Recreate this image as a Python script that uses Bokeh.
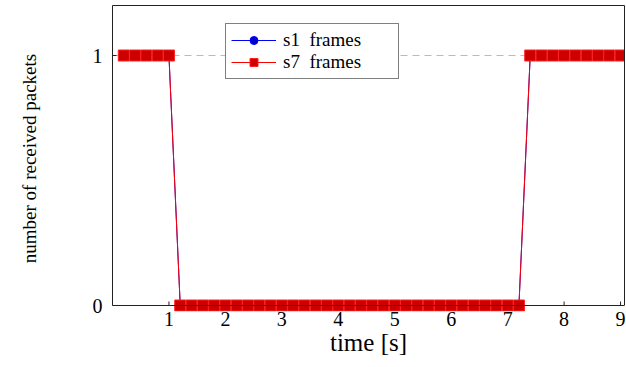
from bokeh.plotting import figure
from bokeh.models import Range1d, FixedTicker, Legend, LegendItem, LinearAxis, Span
from bokeh.embed import file_html
from bokeh.resources import INLINE

# data
time_s = [0.2, 0.4, 0.6, 0.8, 1.0, 1.2, 1.4, 1.6, 1.8, 2.0, 2.2, 2.4, 2.6, 2.8, 3.0,
          3.2, 3.4, 3.6, 3.8, 4.0, 4.2, 4.4, 4.6, 4.8, 5.0, 5.2, 5.4, 5.6, 5.8, 6.0,
          6.2, 6.4, 6.6, 6.8, 7.0, 7.2, 7.4, 7.6, 7.8, 8.0, 8.2, 8.4, 8.6, 8.8, 9.0]
s1_frames = [1, 1, 1, 1, 1, 0, 0, 0, 0, 0, 0, 0, 0, 0, 0,
             0, 0, 0, 0, 0, 0, 0, 0, 0, 0, 0, 0, 0, 0, 0,
             0, 0, 0, 0, 0, 0, 1, 1, 1, 1, 1, 1, 1, 1, 1]
s7_frames = [1, 1, 1, 1, 1, 0, 0, 0, 0, 0, 0, 0, 0, 0, 0,
             0, 0, 0, 0, 0, 0, 0, 0, 0, 0, 0, 0, 0, 0, 0,
             0, 0, 0, 0, 0, 0, 1, 1, 1, 1, 1, 1, 1, 1, 1]
x_ticks = [1, 2, 3, 4, 5, 6, 7, 8, 9]
y_ticks = [0, 1]
labels = ["s1  frames", "s7  frames"]

FONT = "Liberation Serif"
AX = "#222222"

Y0, Y1 = -0.024, 1.2
FRAME_H = 306
TICK_PX = 4

p = figure(width=626, height=367, x_range=Range1d(0, 9.07), y_range=Range1d(Y0, Y1),
           output_backend="svg", toolbar_location=None,
           min_border_left=112, min_border_right=2, min_border_top=5, min_border_bottom=56)

p.outline_line_color = None

# grid
p.xgrid.visible = False
p.ygrid.ticker = FixedTicker(ticks=[1])
p.ygrid.grid_line_color = "#bbbbbb"
p.ygrid.grid_line_dash = "7 5"
p.ygrid.grid_line_width = 1

# axes
for ax in (p.xaxis[0], p.yaxis[0]):
    ax.major_tick_line_color = AX
    ax.major_tick_in = TICK_PX
    ax.major_tick_out = 0
    ax.minor_tick_line_color = None
    ax.major_label_text_font = FONT
    ax.major_label_text_font_size = "20px"
    ax.major_label_text_color = "black"
    ax.axis_label_text_font = FONT
    ax.axis_label_text_font_style = "normal"
    ax.axis_label_text_color = "black"

# x axis: labels at the bottom, line and ticks drawn at y = 0
p.xaxis.ticker = FixedTicker(ticks=x_ticks)
p.xaxis.axis_line_color = None
p.xaxis.major_tick_line_color = None
p.xaxis.axis_label = "time [s]"
p.xaxis.axis_label_text_font_size = "25px"
p.xaxis.major_label_standoff = 0
p.xaxis.axis_label_standoff = 0

p.add_layout(Span(location=0, dimension="width", line_color=AX, line_width=1))
tick_len = TICK_PX * (Y1 - Y0) / FRAME_H
p.segment(x0=x_ticks, y0=[0] * len(x_ticks), x1=x_ticks, y1=[tick_len] * len(x_ticks),
          line_color=AX, line_width=1)

p.yaxis.ticker = FixedTicker(ticks=y_ticks)
p.yaxis.bounds = (0, Y1)
p.yaxis.axis_line_color = AX
p.yaxis.axis_label = "number of received packets"
p.yaxis.axis_label_text_font_size = "19px"
p.yaxis.major_label_standoff = 10
p.yaxis.axis_label_standoff = 50

# frame edges (top and right)
right_ax = LinearAxis(bounds=(0, Y1), ticker=FixedTicker(ticks=[]), major_tick_line_color=None,
                      minor_tick_line_color=None, axis_line_color=AX)
p.add_layout(right_ax, "right")
top_ax = LinearAxis(ticker=FixedTicker(ticks=[]), major_tick_line_color=None,
                    minor_tick_line_color=None, axis_line_color=AX)
p.add_layout(top_ax, "above")

# series
l1 = p.line(time_s, s1_frames, line_color="blue", line_width=1)
m1 = p.scatter(time_s, s1_frames, marker="circle", size=9, fill_color="#0000cc", line_color="blue", line_width=1)
l7 = p.line(time_s, s7_frames, line_color="red", line_width=1)
m7 = p.scatter(time_s, s7_frames, marker="square", size=11, fill_color="#cc0000", line_color="#ff2020", line_width=1)

legend = Legend(items=[LegendItem(label=labels[0], renderers=[l1, m1]),
                       LegendItem(label=labels[1], renderers=[l7, m7])],
                location=(113, 232))
legend.label_text_font = FONT
legend.label_text_font_size = "19px"
legend.label_text_color = "black"
legend.border_line_color = "black"
legend.border_line_width = 1
legend.background_fill_alpha = 1
legend.glyph_width = 45
legend.glyph_height = 20
legend.label_height = 20
legend.label_width = 110
legend.padding = 5
legend.spacing = 0
legend.margin = 0
legend.label_standoff = 7
p.add_layout(legend, "center")

open("out.html", "w").write(file_html(p, INLINE))
